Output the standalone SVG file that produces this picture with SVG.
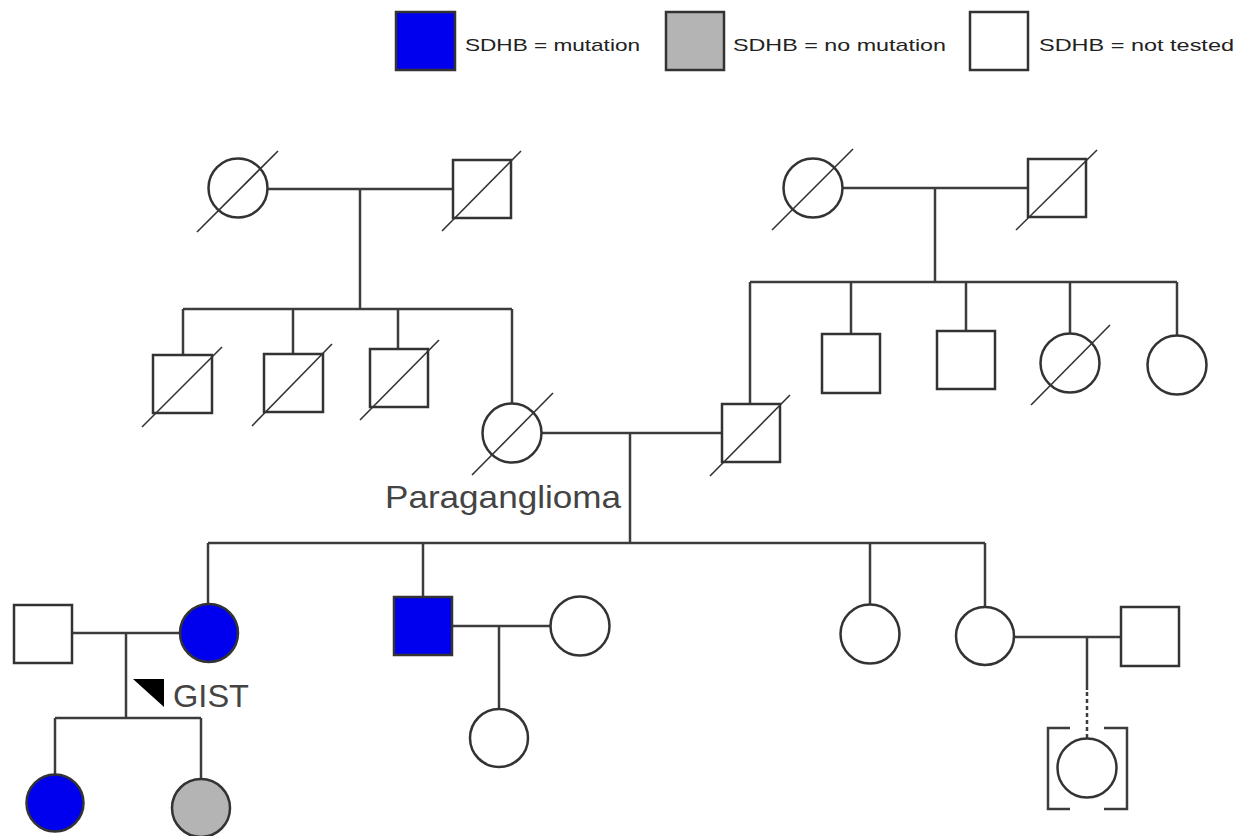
<svg xmlns="http://www.w3.org/2000/svg" width="1240" height="836" viewBox="0 0 1240 836">
<style>
.bg{fill:#ffffff}
.sh{fill:#ffffff;stroke:#333333;stroke-width:2.5}
.mut{fill:#0000ee}
.nom{fill:#b4b4b4}
.ln{stroke:#3c3c3c;stroke-width:2.5;fill:none}
.dot{stroke:#3c3c3c;stroke-width:2.5;fill:none;stroke-dasharray:4 3}
.sl{stroke:#333333;stroke-width:1.6}
.lg{font-family:"Liberation Sans",Arial,sans-serif;font-size:17px;fill:#222222}
.lb{font-family:"Liberation Sans",Arial,sans-serif;font-size:32px;fill:#444444}
</style>
<rect class="bg" x="0" y="0" width="1240" height="836"/>

<g id="legend">
  <rect class="sh mut" x="396" y="12" width="59" height="58"/>
  <text class="lg" x="465" y="51" textLength="175" lengthAdjust="spacingAndGlyphs">SDHB = mutation</text>
  <rect class="sh nom" x="666" y="12" width="58" height="58"/>
  <text class="lg" x="733" y="51" textLength="213" lengthAdjust="spacingAndGlyphs">SDHB = no mutation</text>
  <rect class="sh" x="970" y="12" width="58" height="58"/>
  <text class="lg" x="1039" y="51" textLength="195" lengthAdjust="spacingAndGlyphs">SDHB = not tested</text>
</g>

<g id="connectors">
  <line class="ln" x1="267" y1="189" x2="453" y2="189"/>
  <line class="ln" x1="360" y1="189" x2="360" y2="309"/>
  <line class="ln" x1="183" y1="309" x2="512" y2="309"/>
  <line class="ln" x1="183" y1="309" x2="183" y2="355"/>
  <line class="ln" x1="293" y1="309" x2="293" y2="354"/>
  <line class="ln" x1="398" y1="309" x2="398" y2="349"/>
  <line class="ln" x1="512" y1="309" x2="512" y2="404"/>
  <line class="ln" x1="842" y1="188" x2="1028" y2="188"/>
  <line class="ln" x1="935" y1="188" x2="935" y2="282"/>
  <line class="ln" x1="750" y1="282" x2="1177" y2="282"/>
  <line class="ln" x1="750" y1="282" x2="750" y2="404"/>
  <line class="ln" x1="851" y1="282" x2="851" y2="334"/>
  <line class="ln" x1="966" y1="282" x2="966" y2="331"/>
  <line class="ln" x1="1070" y1="282" x2="1070" y2="334"/>
  <line class="ln" x1="1177" y1="282" x2="1177" y2="336"/>
  <line class="ln" x1="541" y1="433" x2="722" y2="433"/>
  <line class="ln" x1="630" y1="433" x2="630" y2="543"/>
  <line class="ln" x1="208" y1="543" x2="985" y2="543"/>
  <line class="ln" x1="208" y1="543" x2="208" y2="604"/>
  <line class="ln" x1="423" y1="543" x2="423" y2="597"/>
  <line class="ln" x1="870" y1="543" x2="870" y2="605"/>
  <line class="ln" x1="985" y1="543" x2="985" y2="607"/>
  <line class="ln" x1="72" y1="633" x2="180" y2="633"/>
  <line class="ln" x1="126" y1="633" x2="126" y2="718"/>
  <line class="ln" x1="55" y1="718" x2="201" y2="718"/>
  <line class="ln" x1="55" y1="718" x2="55" y2="775"/>
  <line class="ln" x1="201" y1="718" x2="201" y2="779"/>
  <line class="ln" x1="452" y1="626" x2="551" y2="626"/>
  <line class="ln" x1="499" y1="626" x2="499" y2="709"/>
  <line class="ln" x1="1014" y1="637" x2="1121" y2="637"/>
  <line class="ln" x1="1087" y1="637" x2="1087" y2="690"/>
  <line class="dot" x1="1087" y1="692" x2="1087" y2="738"/>
</g>

<g id="I-1"><circle class="sh" cx="238" cy="188" r="29.5"/><line class="sl" x1="197" y1="232" x2="278" y2="151"/></g>
<g id="I-2"><rect class="sh" x="453" y="160" width="58" height="58"/><line class="sl" x1="442" y1="231" x2="521" y2="151"/></g>
<g id="I-3"><circle class="sh" cx="813" cy="188" r="29.5"/><line class="sl" x1="772" y1="230" x2="853" y2="149"/></g>
<g id="I-4"><rect class="sh" x="1028" y="159" width="58" height="58"/><line class="sl" x1="1016" y1="230" x2="1097" y2="150"/></g>

<g id="II-1"><rect class="sh" x="153" y="355" width="59" height="58"/><line class="sl" x1="142" y1="427" x2="222" y2="347"/></g>
<g id="II-2"><rect class="sh" x="264" y="354" width="59" height="58"/><line class="sl" x1="252" y1="426" x2="332" y2="344"/></g>
<g id="II-3"><rect class="sh" x="370" y="349" width="58" height="58"/><line class="sl" x1="360" y1="420" x2="439" y2="340"/></g>
<g id="II-4"><circle class="sh" cx="512" cy="433" r="29.5"/><line class="sl" x1="472" y1="475" x2="553" y2="393"/>
  <text class="lb" x="385" y="508" textLength="236" lengthAdjust="spacingAndGlyphs">Paraganglioma</text></g>
<g id="II-5"><rect class="sh" x="722" y="404" width="58" height="58"/><line class="sl" x1="710" y1="476" x2="790" y2="395"/></g>
<g id="II-6"><rect class="sh" x="822" y="334" width="58" height="59"/></g>
<g id="II-7"><rect class="sh" x="937" y="331" width="58" height="58"/></g>
<g id="II-8"><circle class="sh" cx="1070" cy="363" r="29.5"/><line class="sl" x1="1031" y1="405" x2="1110" y2="325"/></g>
<g id="II-9"><circle class="sh" cx="1177" cy="365" r="29.5"/></g>

<g id="III-1"><rect class="sh" x="14" y="605" width="58" height="58"/></g>
<g id="III-2"><circle class="sh mut" cx="209" cy="633" r="29"/></g>
<g id="III-3"><rect class="sh mut" x="394" y="597" width="58" height="58"/></g>
<g id="III-4"><circle class="sh" cx="580" cy="626" r="29.5"/></g>
<g id="III-5"><circle class="sh" cx="870" cy="634" r="29.5"/></g>
<g id="III-6"><circle class="sh" cx="985" cy="636" r="29"/></g>
<g id="III-7"><rect class="sh" x="1121" y="607" width="58" height="59"/></g>

<g id="GIST">
  <polygon points="133,679 164,679 164,707" fill="#000000"/>
  <text class="lb" x="173" y="707" font-size="31" textLength="76" lengthAdjust="spacingAndGlyphs">GIST</text>
</g>

<g id="IV-1"><circle class="sh mut" cx="55" cy="803" r="28.5"/></g>
<g id="IV-2"><circle class="sh nom" cx="201" cy="808" r="29"/></g>
<g id="IV-3"><circle class="sh" cx="499" cy="738" r="29"/></g>
<g id="IV-4">
  <circle class="sh" cx="1087" cy="768" r="29.5"/>
  <polyline class="ln" points="1070,728 1048,728 1048,809 1070,809"/>
  <polyline class="ln" points="1104,728 1127,728 1127,809 1104,809"/>
</g>
</svg>
